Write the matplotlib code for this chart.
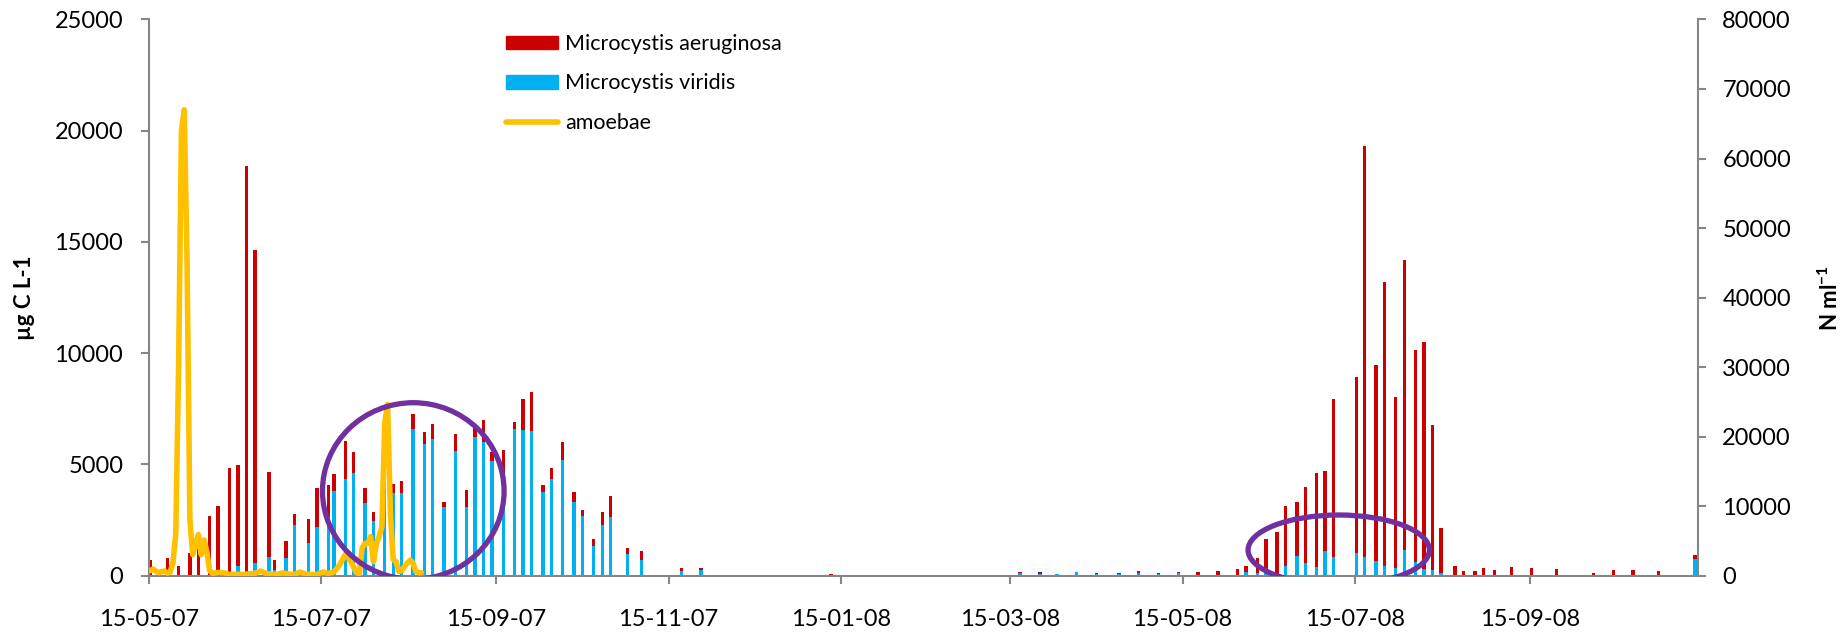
import matplotlib.pyplot as plt
import matplotlib.dates as mdates
import pandas as pd
from matplotlib.lines import Line2D
from matplotlib.patches import Ellipse, Patch

# Microcystis sampling dates
sample_dates = [
    "2007-05-15", "2007-05-21", "2007-05-25", "2007-05-29", "2007-06-01",
    "2007-06-05", "2007-06-08", "2007-06-12", "2007-06-15", "2007-06-18",
    "2007-06-21", "2007-06-26", "2007-06-28", "2007-07-02", "2007-07-05",
    "2007-07-10", "2007-07-13", "2007-07-17", "2007-07-19", "2007-07-23",
    "2007-07-26", "2007-07-30", "2007-08-02", "2007-08-06", "2007-08-09",
    "2007-08-12", "2007-08-16", "2007-08-20", "2007-08-23", "2007-08-27",
    "2007-08-31", "2007-09-04", "2007-09-07", "2007-09-10", "2007-09-13",
    "2007-09-17", "2007-09-21", "2007-09-24", "2007-09-27", "2007-10-01",
    "2007-10-04", "2007-10-08", "2007-10-12", "2007-10-15", "2007-10-19",
    "2007-10-22", "2007-10-25", "2007-10-31", "2007-11-05", "2007-11-19",
    "2007-11-26",
    "2008-01-11", "2008-03-18", "2008-03-25", "2008-03-31", "2008-04-07",
    "2008-04-14", "2008-04-22", "2008-04-29", "2008-05-06", "2008-05-13",
    "2008-05-20", "2008-05-27", "2008-06-03", "2008-06-06", "2008-06-10",
    "2008-06-13", "2008-06-17", "2008-06-20", "2008-06-24", "2008-06-27",
    "2008-07-01", "2008-07-04", "2008-07-07", "2008-07-15", "2008-07-18",
    "2008-07-22", "2008-07-25", "2008-07-29", "2008-08-01", "2008-08-05",
    "2008-08-08", "2008-08-11", "2008-08-14", "2008-08-19", "2008-08-22",
    "2008-08-26", "2008-08-29", "2008-09-02", "2008-09-08", "2008-09-15",
    "2008-09-24", "2008-10-07", "2008-10-14", "2008-10-21", "2008-10-30",
    "2008-11-12",
]

# M. viridis biomass (µg C L-1)
viridis = [
    0, 0, 0, 0, 0,
    0, 0, 0, 430, 0,
    570, 830, 260, 770, 2270,
    1450, 2180, 2640, 3790, 4340,
    4590, 3280, 2450, 5700, 3700,
    3700, 6590, 5910, 6140, 3070,
    5600, 3090, 6240, 5990, 5140,
    4590, 6570, 6530, 6500, 3770,
    4340, 5190, 3320, 2690, 1330,
    2270, 2650, 980, 680, 200,
    260,
    40, 110, 60, 60, 140,
    80, 90, 130, 60, 100,
    0, 0, 0, 140, 130,
    130, 60, 430, 880, 580,
    370, 1100, 820, 1000, 820,
    640, 430, 320, 1150, 600,
    280, 250, 130, 0, 0,
    0, 0, 0, 0, 0,
    0, 0, 0, 0, 0,
    740,
]

# M. aeruginosa biomass (µg C L-1), stacked on top of M. viridis
aeruginosa = [
    680, 790, 410, 1000, 1200,
    2680, 3110, 4830, 4540, 18420,
    14060, 3810, 450, 780, 480,
    1080, 1750, 1420, 760, 1720,
    950, 660, 400, 850, 400,
    540, 660, 560, 660, 220,
    780, 770, 510, 1010, 400,
    1040, 350, 1410, 1730, 320,
    500, 810, 420, 270, 310,
    570, 920, 240, 420, 120,
    60,
    10, 50, 80, 10, 20,
    20, 10, 70, 50, 40,
    160, 200, 300, 300, 640,
    1530, 1900, 2700, 2420, 3390,
    4220, 3610, 7100, 7930, 18480,
    8820, 12780, 7690, 13040, 9550,
    10200, 6520, 2010, 440, 220,
    190, 320, 250, 380, 340,
    290, 130, 260, 250, 200,
    170,
]

# Amoebae counts (N ml-1)
amoeba_dates = [
    "2007-05-15", "2007-05-16", "2007-05-17", "2007-05-18", "2007-05-19",
    "2007-05-20", "2007-05-21", "2007-05-22", "2007-05-23", "2007-05-24",
    "2007-05-25", "2007-05-26", "2007-05-27", "2007-05-28", "2007-05-29",
    "2007-05-30", "2007-05-31", "2007-06-01", "2007-06-02", "2007-06-03",
    "2007-06-04", "2007-06-05", "2007-06-06", "2007-06-08", "2007-06-10",
    "2007-06-12", "2007-06-14", "2007-06-17", "2007-06-19", "2007-06-21",
    "2007-06-23", "2007-06-25", "2007-06-27", "2007-06-29", "2007-07-01",
    "2007-07-03", "2007-07-05", "2007-07-07", "2007-07-09", "2007-07-11",
    "2007-07-13", "2007-07-15", "2007-07-17", "2007-07-19", "2007-07-21",
    "2007-07-23", "2007-07-24", "2007-07-25", "2007-07-26", "2007-07-27",
    "2007-07-28", "2007-07-29", "2007-07-30", "2007-07-31", "2007-08-01",
    "2007-08-02", "2007-08-03", "2007-08-04", "2007-08-05", "2007-08-06",
    "2007-08-07", "2007-08-08", "2007-08-09", "2007-08-10", "2007-08-11",
    "2007-08-12", "2007-08-13", "2007-08-14", "2007-08-15", "2007-08-16",
    "2007-08-17", "2007-08-18", "2007-08-19",
]
amoebae = [
    700, 950, 600, 400, 550,
    650, 350, 500, 1800, 6000,
    30000, 64000, 67000, 45000, 8000,
    3000, 4500, 5900, 3000, 5100,
    3400, 700, 300, 450, 400,
    150, 200, 150, 250, 300,
    650, 300, 200, 150, 400,
    200, 150, 500, 200, 150,
    150, 500, 300, 500, 1500,
    3000, 2600, 2000, 1200, 400,
    300, 4000, 4600, 4600, 5600,
    2000, 4500, 5600, 7000, 22000,
    24600, 9000, 2300, 2000, 600,
    700, 1300, 1800, 2200, 1800,
    600, 400, 400,
]

RED = "#CC0000"
BLUE = "#00B0F0"
YELLOW = "#FFC000"
PURPLE = "#7030A0"
GREY = "#868686"


def main():
    plt.rcParams["font.family"] = "Lato"
    plt.rcParams["mathtext.fontset"] = "custom"
    plt.rcParams["mathtext.rm"] = "Lato"
    plt.rcParams["mathtext.bf"] = "Lato:bold"

    # Bars sit in the middle of their day slot
    bar_x = pd.to_datetime(sample_dates) + pd.Timedelta(hours=12)
    line_x = pd.to_datetime(amoeba_dates) + pd.Timedelta(hours=12)

    fig = plt.figure(figsize=(18.41, 6.33), dpi=100)
    ax = fig.add_axes([0.0809, 0.0908, 0.8414, 0.8784])
    ax2 = ax.twinx()

    # Stacked biomass bars
    ax.bar(bar_x, viridis, width=1.2, color=BLUE, linewidth=0)
    ax.bar(bar_x, aeruginosa, bottom=viridis, width=1.2, color=RED, linewidth=0)

    # Amoebae on the right axis
    ax2.plot(line_x, amoebae, color=YELLOW, lw=4.0,
             solid_joinstyle="round", solid_capstyle="round")

    # Highlight the M. viridis episodes
    t0 = mdates.date2num(pd.Timestamp("2007-05-15"))
    for cx, cy, w, h in [(93.6, 3800, 64.3, 7940), (421.3, 1146, 64.2, 3150)]:
        ell = Ellipse((t0 + cx, cy), w, h, fill=False, edgecolor=PURPLE,
                      lw=3.8, transform=ax.transData, zorder=5)
        ax2.add_patch(ell)

    # Limits and ticks
    ax.set_xlim(pd.Timestamp("2007-05-15"), pd.Timestamp("2008-11-13 12:00"))
    ax.set_ylim(0, 25000)
    ax2.set_ylim(0, 80000)
    ax.set_yticks(range(0, 25001, 5000))
    ax2.set_yticks(range(0, 80001, 10000))
    ax.xaxis.set_major_locator(mdates.MonthLocator(bymonth=[1, 3, 5, 7, 9, 11], bymonthday=15))
    ax.xaxis.set_major_formatter(mdates.DateFormatter("%d-%m-%y"))

    for a in (ax, ax2):
        a.spines["top"].set_visible(False)
        for s in a.spines.values():
            s.set_color(GREY)
            s.set_linewidth(1.5)
    ax.spines["right"].set_visible(False)
    ax2.spines["left"].set_visible(False)
    ax2.spines["bottom"].set_visible(False)

    ax.tick_params(axis="x", length=6, width=1.5, color=GREY, labelsize=17, pad=18)
    ax.tick_params(axis="y", length=5.5, width=1.5, color=GREY, labelsize=17, pad=13)
    ax2.tick_params(axis="y", length=5.5, width=1.5, color=GREY, labelsize=17, pad=12)

    # Axis titles
    ax.set_ylabel("µg C L-1", fontsize=16, fontweight="bold")
    ax.yaxis.set_label_coords(-0.0736, 0.5)
    ax2.set_ylabel(r"N ml$^{\mathbf{-1}}$", fontsize=16, fontweight="bold")
    ax2.yaxis.set_label_coords(1.077, 0.5)

    # Legend
    handles = [
        Patch(color=RED),
        Patch(color=BLUE),
        Line2D([0], [0], color=YELLOW, lw=4.0, solid_capstyle="round"),
    ]
    labels = ["Microcystis aeruginosa", "Microcystis viridis", "amoebae"]
    ax2.legend(handles, labels, loc="upper left", bbox_to_anchor=(506 / 1841, 1 - 34 / 633),
               bbox_transform=fig.transFigure, frameon=False, fontsize=15.5,
               handlelength=2.42, handleheight=0.6, handletextpad=0.33,
               labelspacing=0.9, borderpad=0, borderaxespad=0)

    plt.savefig("out.png", dpi=100)


if __name__ == "__main__":
    main()
